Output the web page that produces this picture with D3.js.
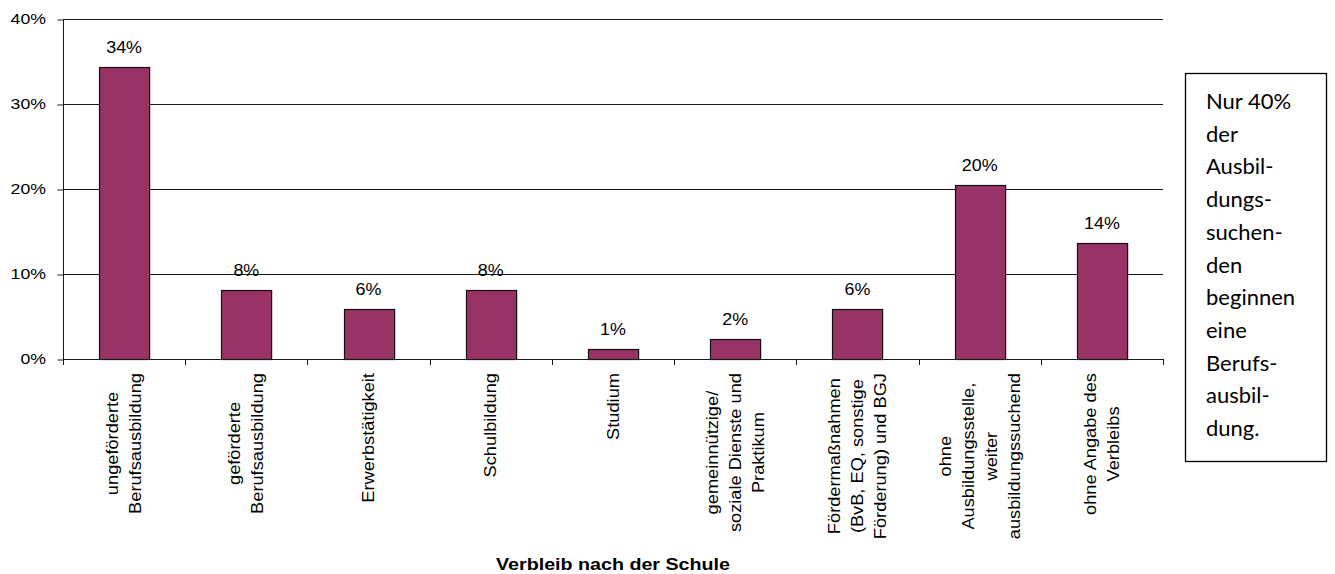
<!DOCTYPE html>
<html>
<head>
<meta charset="utf-8">
<script src="https://cdn.jsdelivr.net/npm/d3@7"></script>
<style>
  html, body { margin: 0; padding: 0; background: #fff; }
  svg { display: block; }
</style>
</head>
<body>
<svg id="chart" width="1335" height="574"></svg>
<script>
// ---- data ----
const categories = [
  ["ungeförderte", "Berufsausbildung"],
  ["geförderte", "Berufsausbildung"],
  ["Erwerbstätigkeit"],
  ["Schulbildung"],
  ["Studium"],
  ["gemeinnützige/", "soziale Dienste und", "Praktikum"],
  ["Fördermaßnahmen", "(BvB, EQ, sonstige", "Förderung) und BGJ"],
  ["ohne", "Ausbildungsstelle,", "weiter", "ausbildungssuchend"],
  ["ohne Angabe des", "Verbleibs"]
];
const values = [34.4, 8.1, 5.9, 8.1, 1.2, 2.4, 5.9, 20.5, 13.6];
const valueLabels = ["34%", "8%", "6%", "8%", "1%", "2%", "6%", "20%", "14%"];
const yTicks = [0, 10, 20, 30, 40];
const yTickLabels = ["0%", "10%", "20%", "30%", "40%"];
const axisTitle = "Verbleib nach der Schule";
const noteLines = ["Nur 40%", "der", "Ausbil-", "dungs-", "suchen-", "den", "beginnen", "eine", "Berufs-", "ausbil-", "dung."];

(function () {
// ---- layout ----
const svg = d3.select("#chart");
const pLeft = 63, pRight = 1163, pTop = 19, pBottom = 359;
const FONT = "'Liberation Sans', Arial, Helvetica, sans-serif";

const keys = categories.map((c, i) => i);
const x = d3.scaleBand().domain(keys).range([pLeft, pRight]).paddingInner(0.59).paddingOuter(0.295);
const y = d3.scaleLinear().domain([0, 40]).range([pBottom, pTop]);

// gridlines
svg.append("g").selectAll("line").data(yTicks.filter(d => d > 0)).join("line")
  .attr("x1", pLeft).attr("x2", pRight)
  .attr("y1", d => Math.round(y(d)) + 0.5).attr("y2", d => Math.round(y(d)) + 0.5)
  .attr("stroke", "#1a1a1a").attr("stroke-width", 1);

// y axis
const yAxis = d3.axisLeft(y).tickValues(yTicks).tickSize(6).tickFormat(() => "");
const gy = svg.append("g").attr("transform", `translate(${pLeft + 0.5},0.5)`).call(yAxis);
gy.select(".domain").attr("stroke", "#1a1a1a").attr("d", `M0,${pTop}V${pBottom}`);
gy.selectAll(".tick line").attr("stroke", "#1a1a1a");

// y tick labels (stretched)
svg.append("g").selectAll("text").data(yTicks).join("text")
  .attr("transform", d => `translate(46,${y(d)}) scale(1.22,1)`)
  .attr("text-anchor", "end").attr("dominant-baseline", "central")
  .attr("font-family", FONT).attr("font-size", 14.5).attr("fill", "#000")
  .text((d, i) => yTickLabels[i]);

// bars
svg.append("g").selectAll("rect").data(values).join("rect")
  .attr("x", (d, i) => Math.round(x(i)) + 0.5)
  .attr("y", d => Math.round(y(d)) + 0.5)
  .attr("width", x.bandwidth())
  .attr("height", d => Math.round(pBottom) - Math.round(y(d)))
  .attr("fill", "#993366").attr("stroke", "#111").attr("stroke-width", 1.2);

// x axis line + ticks at band boundaries
const step = x.step();
svg.append("line").attr("x1", pLeft).attr("x2", pRight)
  .attr("y1", pBottom + 0.5).attr("y2", pBottom + 0.5).attr("stroke", "#1a1a1a");
svg.append("g").selectAll("line").data(d3.range(categories.length + 1)).join("line")
  .attr("x1", d => Math.round(pLeft + d * step) + 0.5).attr("x2", d => Math.round(pLeft + d * step) + 0.5)
  .attr("y1", pBottom).attr("y2", pBottom + 6).attr("stroke", "#1a1a1a");

// value labels
svg.append("g").selectAll("text").data(values).join("text")
  .attr("transform", (d, i) => `translate(${x(i) + x.bandwidth() / 2},${y(d) - 14}) scale(1.12,1)`)
  .attr("text-anchor", "middle")
  .attr("font-family", FONT).attr("font-size", 16).attr("fill", "#000")
  .text((d, i) => valueLabels[i]);

// rotated category labels
const SA = 1.14, LH = 23, LABEL_TOP = 373;
categories.forEach((lines, i) => {
  const cx = x(i) + x.bandwidth() / 2;
  const g = svg.append("g").attr("transform", `translate(${cx},${LABEL_TOP}) rotate(-90)`);
  const texts = g.selectAll("text").data(lines).join("text")
    .attr("font-family", FONT).attr("font-size", 16).attr("fill", "#000")
    .attr("text-anchor", "middle").attr("dominant-baseline", "central")
    .text(d => d);
  let maxL = 0;
  texts.each(function () { maxL = Math.max(maxL, this.getComputedTextLength()); });
  const n = lines.length;
  texts.attr("transform", (d, j) => `translate(${-maxL * SA / 2},${(j - (n - 1) / 2) * LH}) scale(${SA},1)`);
});

// axis title
svg.append("text")
  .attr("transform", `translate(${(pLeft + pRight) / 2},570) scale(1.23,1)`)
  .attr("text-anchor", "middle")
  .attr("font-family", FONT).attr("font-size", 16).attr("font-weight", "bold").attr("fill", "#000")
  .text(axisTitle);

// note box
svg.append("rect").attr("x", 1185.5).attr("y", 73.5).attr("width", 141).attr("height", 388)
  .attr("fill", "#fff").attr("stroke", "#000").attr("stroke-width", 1.3);
svg.append("g").selectAll("text").data(noteLines).join("text")
  .attr("x", 1206).attr("y", (d, i) => 109 + i * 32.7)
  .attr("font-family", "Lato, 'Open Sans', sans-serif").attr("font-size", 22).attr("fill", "#000")
  .text(d => d);
})();
</script>
</body>
</html>
